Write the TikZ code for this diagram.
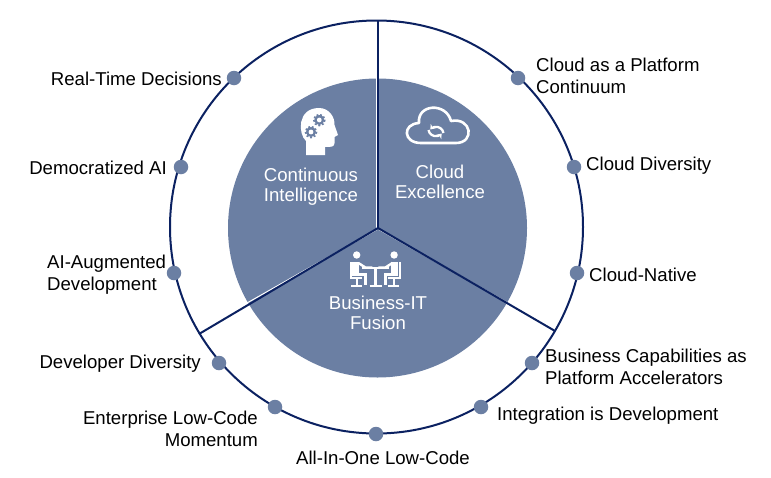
\documentclass[tikz,border=0pt]{standalone}
\usepackage{fontspec}
\setmainfont{Liberation Sans}
\usetikzlibrary{arrows.meta}
\definecolor{ringblue}{HTML}{0B2161}
\definecolor{discblue}{HTML}{6B7FA3}
\newcommand{\gearicon}[2]{
\draw [discblue,line width=1.6,dash pattern=on 1.9 off 1.9] (#1,#2) circle (5.6);
\fill [discblue] (#1,#2) circle (5);
\fill [white] (#1,#2) circle (2.4);
}
\begin{document}
\begin{tikzpicture}[x=1pt,y=-1pt]
\tikzstyle{every node}=[font=\fontsize{18.6}{22}\selectfont,align=left,inner sep=0pt]
\tikzstyle{dot}=[circle,fill=discblue,minimum size=14.5pt]
\tikzstyle{hub}=[align=center,text=white,font=\fontsize{18.6}{20.5}\selectfont]
\tikzstyle{spoke}=[draw=ringblue,line width=2]
\tikzstyle{sheen}=[draw=white,line width=1]
\useasboundingbox (0,0) rectangle (771,477);

\fill [discblue] (377.5,228) circle (149.5);
\coordinate (hub) at (378,228);
\coordinate (top) at (378,20);
\coordinate (sw) at (199,334);
\coordinate (se) at (555,331);
\draw [sheen] (376.4,78) -- (376.4,228);
\draw [sheen] (377,229.5) -- (247,303);
\draw [sheen] (379,229.5) -- (508,303);
\draw [spoke] (hub) -- (top);
\draw [spoke] (hub) -- (sw);
\draw [spoke] (hub) -- (se);
\draw [spoke] (376.5,227) circle (206.5);

\draw (234,78)  node (d1) [dot] {};
\draw (181,167) node (d2) [dot] {};
\draw (174,273) node (d3) [dot] {};
\draw (219,363) node (d4) [dot] {};
\draw (275,407) node (d5) [dot] {};
\draw (376,434) node (d6) [dot] {};
\draw (481,407) node (d7) [dot] {};
\draw (532,363) node (d8) [dot] {};
\draw (577,273) node (d9) [dot] {};
\draw (574,167) node (d10) [dot] {};
\draw (518,78)  node (d11) [dot] {};

\node (t1) [anchor=east] at (222,78.5) {Real-Time Decisions};
\node (t2) [anchor=east] at (167,167.5) {Democratized AI};
\node (t3) [anchor=west] at (47,275) {AI-Augmented\\Development};
\node (t4) [anchor=east] at (201,363.5) {Developer Diversity};
\node (t5) [anchor=east,align=right] at (258,428.5) {Enterprise Low-Code\\Momentum};
\node (t6) [anchor=center] at (383,457.5) {All-In-One Low-Code};
\node (t7) [anchor=west] at (497,416) {Integration is Development};
\node (t8) [anchor=west] at (545,366.5) {Business Capabilities as\\Platform Accelerators};
\node (t9) [anchor=west] at (589,274.5) {Cloud-Native};
\node (t10) [anchor=west] at (586,165.5) {Cloud Diversity};
\node (t11) [anchor=west] at (536,75.5) {Cloud as a Platform\\Continuum};

\node (ci) [hub] at (311,186.5) {Continuous\\Intelligence};
\node (ce) [hub] at (440,182) {Cloud\\Excellence};
\node (bf) [hub] at (378,313) {Business-IT\\Fusion};

% head
\fill [white] (306,155) -- (306,141) .. controls (298,134) and (297,108) .. (319,108)
 .. controls (329,108) and (335,117) .. (334.5,125) -- (338,135) -- (334.5,137)
 -- (334.5,143) .. controls (334.5,147) and (331,147) .. (325,147) -- (325,155) -- cycle;
\gearicon{319.3}{120}
\gearicon{311}{132}

% cloud
\draw [white,line width=2.6,line join=round] (421,143)
 .. controls (403,143) and (402,124) .. (419,123)
 .. controls (417,104) and (446,102) .. (451,121)
 .. controls (472,117) and (475,143) .. (456,143) -- cycle;
\draw [white,line width=2.3,-{Stealth[length=4.5pt,width=6.5pt]}] (428.5,130) arc (170:40:7.5);
\draw [white,line width=2.3,-{Stealth[length=4.5pt,width=6.5pt]}] (443.5,133) arc (-10:-140:7.5);

% meeting
\foreach \s in {1,-1} {
\begin{scope}[shift={(375.4,0)},xscale=\s]
\fill [white] (-18.7,255) circle (3.7);
\fill [white] (-23,262) rectangle (-16,274);
\draw [white,line width=2.4] (-17,263) -- (-10,267.5) -- (-3,267.5);
\draw [white,line width=3] (-23,274) -- (-10,274) -- (-10,285);
\draw [white,line width=2] (-24.7,262) -- (-24.7,278) -- (-13,278);
\draw [white,line width=1.6] (-18.7,278) -- (-18.7,285);
\draw [white,line width=1.6] (-24,285.7) -- (-13,285.7);
\end{scope}
}
\draw [white,line width=1.8] (362,268) -- (389,268);
\draw [white,line width=3] (375.4,268) -- (375.4,285);
\draw [white,line width=1.8] (369.5,285.7) -- (381.5,285.7);
\end{tikzpicture}
\end{document}
